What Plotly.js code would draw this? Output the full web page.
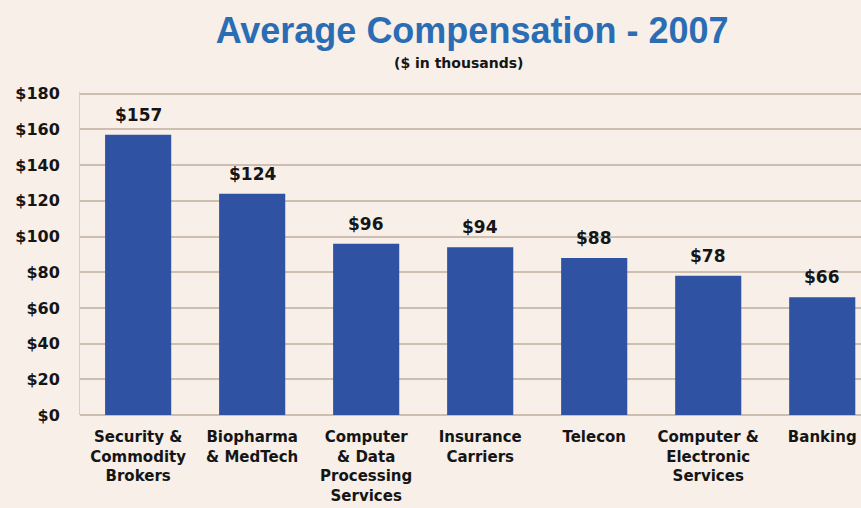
<!DOCTYPE html>
<html>
<head>
<meta charset="utf-8">
<script src="https://cdn.plot.ly/plotly-3.0.1.min.js"></script>
<style>html,body{margin:0;padding:0;background:#f7efe8;}#chart{width:861px;height:508px;}</style>
</head>
<body>
<div id="chart"></div>
<script>
const categories = ["Security &<br>Commodity<br>Brokers", "Biopharma<br>& MedTech", "Computer<br>& Data<br>Processing<br>Services", "Insurance<br>Carriers", "Telecon", "Computer &<br>Electronic<br>Services", "Banking"];
const compensation = [157, 124, 96, 94, 88, 78, 66];
const valueLabels = ["$157", "$124", "$96", "$94", "$88", "$78", "$66"];
const tickValues = [0, 20, 40, 60, 80, 100, 120, 140, 160, 180];
const tickLabels = ["$0", "$20", "$40", "$60", "$80", "$100", "$120", "$140", "$160", "$180"];

const titleFont = "Liberation Sans, Arial, sans-serif";
const font = "DejaVu Sans, sans-serif";
const xIdx = categories.map((c, i) => i);
const trace = {
  type: "bar",
  x: xIdx,
  y: compensation,
  width: 0.58,
  marker: {color: "#2f52a2", line: {width: 0}},
  hoverinfo: "skip"
};
const valueAnnotations = compensation.map((v, i) => ({
  x: i, y: v, xref: "x", yref: "y", text: "<b>" + valueLabels[i] + "</b>",
  showarrow: false, yanchor: "bottom", xanchor: "center", yshift: 8,
  font: {family: font, size: 17, color: "#151515"}
}));
const layout = {
  width: 861, height: 508,
  paper_bgcolor: "#f7efe8", plot_bgcolor: "#f7efe8",
  margin: {l: 80, r: 0, t: 92, b: 93},
  showlegend: false,
  xaxis: {
    range: [-0.51, 6.34],
    tickmode: "array",
    tickvals: xIdx,
    ticktext: categories,
    tickfont: {family: font, size: 15, color: "#151515", weight: "bold"},
    ticklabelstandoff: 11,
    showgrid: false, zeroline: false, showline: false, ticks: "", ticklen: 0
  },
  yaxis: {
    range: [0, 181],
    tickmode: "array",
    tickvals: tickValues,
    ticktext: tickLabels,
    tickfont: {family: font, size: 16, color: "#151515", weight: "bold"},
    showgrid: true, gridcolor: "#cdbeb0", gridwidth: 2,
    zeroline: true, zerolinecolor: "#cdbeb0", zerolinewidth: 2,
    showline: true, linecolor: "#d9ccc0", linewidth: 1,
    ticks: "", ticklabelstandoff: 16
  },
  title: {
    text: "<b>Average Compensation - 2007</b>",
    font: {family: titleFont, size: 36, color: "#2a6db4"},
    x: 0.502, xanchor: "center", xref: "paper", y: 0.941, yanchor: "middle"
  },
  annotations: [{
    text: "<b>($ in thousands)</b>", xref: "paper", yref: "paper",
    x: 0.484, y: 1.09, xanchor: "center", yanchor: "middle",
    showarrow: false, font: {family: font, size: 14, color: "#151515"}
  }].concat(valueAnnotations)
};
Plotly.newPlot("chart", [trace], layout, {displayModeBar: false, staticPlot: true});
</script>
</body>
</html>
